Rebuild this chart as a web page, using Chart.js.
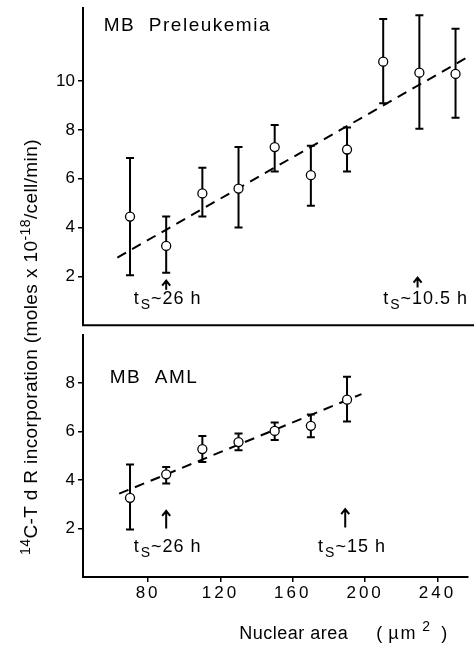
<!DOCTYPE html>
<html>
<head>
<meta charset="utf-8">
<script src="https://cdn.jsdelivr.net/npm/chart.js@4.4.1/dist/chart.umd.min.js"></script>
<style>
  html, body { margin: 0; padding: 0; background: #fff; }
  #wrap { position: relative; width: 474px; height: 654px; overflow: hidden; }
  #wrap canvas { position: absolute; left: 0; }
  #upper { top: 0; }
  #lower { top: 329px; }
  #ytitle {
    position: absolute; left: -199px; top: 335px; width: 460px; height: 24px;
    text-align: center; white-space: nowrap; color: #000;
    font: 19px "Liberation Sans", Arial, sans-serif; line-height: 24px;
    letter-spacing: 0.4px;
    transform: rotate(-90deg);
  }
  #ytitle sup { font-size: 14px; line-height: 0; vertical-align: 7px; }
</style>
</head>
<body>
<div id="wrap">
  <canvas id="upper" width="474" height="331"></canvas>
  <canvas id="lower" width="474" height="325"></canvas>
  <div id="ytitle"><sup>14</sup>C-T d R incorporation (moles x 10<sup>-18</sup>/cell/min)</div>
</div>
<script>
// nuclear area classes (um^2)
const xValues = [70, 90, 110, 130, 150, 170, 190, 210, 230, 250];
const xTicks = [80, 120, 160, 200, 240];

// MB preleukemia: mean and error bar ends
const preMean = [4.45, 3.25, 5.4, 5.6, 7.3, 6.15, 7.2, 10.8, 10.35, 10.3];
const preLow = [2.05, 2.15, 4.45, 4.0, 6.3, 4.9, 6.3, 9.1, 8.05, 8.5];
const preHigh = [6.85, 4.45, 6.45, 7.3, 8.2, 7.35, 8.1, 12.55, 12.7, 12.15];
const preFitX = [63, 257];
const preFitY = [2.77, 11.0];
const preTicks = [2, 4, 6, 8, 10];

// MB AML
const amlX = [70, 90, 110, 130, 150, 170, 190];
const amlMean = [3.27, 4.24, 5.28, 5.57, 6.03, 6.24, 7.32];
const amlLow = [1.96, 3.86, 4.75, 5.23, 5.66, 5.77, 6.42];
const amlHigh = [4.65, 4.54, 5.82, 5.93, 6.38, 6.71, 8.27];
const amlFitX = [64, 198];
const amlFitY = [3.44, 7.55];
const amlTicks = [2, 4, 6, 8];

// annotations, in data units of each panel
const preNotes = {
  title: { text: 'MB  Preleukemia', x: 55.5, y: 12.04 },
  arrows: [{ x: 90, from: 1.45, to: 1.83 }, { x: 229, from: 1.55, to: 1.95 }],
  labels: [{ x: 72, y: 0.88, rest: '~26 h' }, { x: 210, y: 0.88, rest: '~10.5 h' }]
};
const amlNotes = {
  title: { text: 'MB  AML', x: 58.8, y: 8.03 },
  arrows: [{ x: 90, from: 2.0, to: 2.73 }, { x: 189, from: 2.04, to: 2.8 }],
  labels: [{ x: 72, y: 1.03, rest: '~26 h' }, { x: 174, y: 1.03, rest: '~15 h' }]
};

const FONT = '"Liberation Sans", Arial, sans-serif';
Chart.defaults.font.family = FONT;
Chart.defaults.color = '#000';

// fixed axis sizes so both panels line up
const fixY = (axis) => { axis.width = 83; axis.paddingTop = 0; axis.paddingBottom = 0; };
const fixX = (axis) => { axis.height = 77; axis.paddingLeft = 0; axis.paddingRight = 0; };

const errorBars = {
  id: 'errorBars',
  beforeDatasetsDraw(chart) {
    const { ctx, scales: { x, y } } = chart;
    chart.data.datasets.forEach((ds) => {
      if (!ds.errLow) return;
      ctx.save();
      ctx.strokeStyle = '#000';
      ctx.lineWidth = 2;
      ds.data.forEach((p, i) => {
        const px = x.getPixelForValue(p.x);
        const lo = y.getPixelForValue(ds.errLow[i]);
        const hi = y.getPixelForValue(ds.errHigh[i]);
        ctx.beginPath();
        ctx.moveTo(px, lo); ctx.lineTo(px, hi);
        ctx.moveTo(px - 4, lo); ctx.lineTo(px + 4, lo);
        ctx.moveTo(px - 4, hi); ctx.lineTo(px + 4, hi);
        ctx.stroke();
      });
      ctx.restore();
    });
  }
};

function notesPlugin(notes, isBottom) {
  return {
    id: 'notes',
    afterDatasetsDraw(chart) {
      const { ctx, scales: { x, y } } = chart;
      ctx.save();
      ctx.fillStyle = '#000';
      ctx.strokeStyle = '#000';
      ctx.textBaseline = 'alphabetic';
      ctx.textAlign = 'left';

      ctx.letterSpacing = '1.5px';
      ctx.font = '19px ' + FONT;
      ctx.fillText(notes.title.text, x.getPixelForValue(notes.title.x), y.getPixelForValue(notes.title.y));

      ctx.lineWidth = 2;
      notes.arrows.forEach((a) => {
        const px = x.getPixelForValue(a.x);
        const y0 = y.getPixelForValue(a.from);
        const y1 = y.getPixelForValue(a.to);
        ctx.beginPath();
        ctx.moveTo(px, y0); ctx.lineTo(px, y1);
        ctx.moveTo(px - 4, y1 + 5); ctx.lineTo(px, y1); ctx.lineTo(px + 4, y1 + 5);
        ctx.stroke();
      });

      ctx.letterSpacing = '1px';
      notes.labels.forEach((l) => {
        let px = x.getPixelForValue(l.x);
        const py = y.getPixelForValue(l.y);
        ctx.font = '18px ' + FONT;
        ctx.fillText('t', px, py);
        px += ctx.measureText('t').width + 1;
        ctx.font = '14px ' + FONT;
        ctx.fillText('S', px, py + 5);
        px += ctx.measureText('S').width;
        ctx.font = '18px ' + FONT;
        ctx.fillText(l.rest, px, py);
      });
      ctx.restore();
      // spaced-out digits on the x tick labels (drawn after this hook)
      if (isBottom) ctx.letterSpacing = '3px';
    },
    afterDraw(chart) {
      const ctx = chart.ctx;
      ctx.letterSpacing = '0px';
      if (!isBottom) {
        // divider between panels
        const { left, bottom } = chart.chartArea;
        ctx.save();
        ctx.strokeStyle = '#000';
        ctx.lineWidth = 2;
        ctx.beginPath();
        ctx.moveTo(left - 1, bottom);
        ctx.lineTo(chart.width, bottom);
        ctx.stroke();
        ctx.restore();
        return;
      }
      // x axis title
      const base = chart.chartArea.bottom + 62;
      const r = chart.chartArea.right;
      ctx.save();
      ctx.fillStyle = '#000';
      ctx.textAlign = 'left';
      ctx.textBaseline = 'alphabetic';
      ctx.letterSpacing = '0.5px';
      ctx.font = '18px ' + FONT;
      ctx.fillText('Nuclear area', r - 229, base);
      ctx.fillText('(', r - 92, base);
      ctx.letterSpacing = '2px';
      ctx.fillText('\u00b5m', r - 80, base);
      ctx.fillText(')', r - 27, base);
      ctx.font = '14px ' + FONT;
      ctx.fillText('2', r - 46, base - 8);
      ctx.restore();
    }
  };
}

function yScale(max, ticks) {
  return {
    type: 'linear',
    min: 0,
    max: max,
    afterBuildTicks: (axis) => { axis.ticks = ticks.map((v) => ({ value: v })); },
    afterFit: fixY,
    grid: { drawOnChartArea: false, color: '#000', tickLength: 5, lineWidth: 1.5 },
    border: { color: '#000', width: 2 },
    ticks: { color: '#000', padding: 3, font: { size: 17 } }
  };
}

function panel(canvasId, xs, mean, low, high, fitX, fitY, max, ticks, notes, isBottom) {
  return new Chart(document.getElementById(canvasId), {
    type: 'scatter',
    data: {
      datasets: [
        {
          data: xs.map((x, i) => ({ x: x, y: mean[i] })),
          errLow: low,
          errHigh: high,
          pointRadius: 4.5,
          pointBackgroundColor: '#fff',
          pointBorderColor: '#000',
          pointBorderWidth: 1.3,
          order: 0
        },
        {
          type: 'line',
          data: fitX.map((x, i) => ({ x: x, y: fitY[i] })),
          showLine: true,
          borderColor: '#000',
          borderWidth: 2,
          borderDash: [10, 7],
          pointRadius: 0,
          fill: false,
          order: 1
        }
      ]
    },
    options: {
      responsive: false,
      animation: false,
      devicePixelRatio: 1,
      layout: { padding: isBottom ? { top: 0, bottom: 0, left: 0, right: 0 } : { top: 8, bottom: 2, left: 0, right: 0 } },
      plugins: { legend: { display: false }, tooltip: { enabled: false } },
      scales: {
        x: isBottom ? {
          type: 'linear',
          min: 44,
          max: 257,
          afterBuildTicks: (axis) => { axis.ticks = xTicks.map((v) => ({ value: v })); },
          afterFit: fixX,
          grid: { drawOnChartArea: false, color: '#000', tickLength: 5, lineWidth: 1.5 },
          border: { color: '#000', width: 2 },
          ticks: { color: '#000', padding: 1, maxRotation: 0, font: { size: 17 }, z: 1 }
        } : { type: 'linear', min: 44, max: 257, display: false },
        y: yScale(max, ticks)
      }
    },
    plugins: [errorBars, notesPlugin(notes, isBottom)]
  });
}

panel('upper', xValues, preMean, preLow, preHigh, preFitX, preFitY, 13, preTicks, preNotes, false);
panel('lower', amlX, amlMean, amlLow, amlHigh, amlFitX, amlFitY, 10, amlTicks, amlNotes, true);
</script>
</body>
</html>
